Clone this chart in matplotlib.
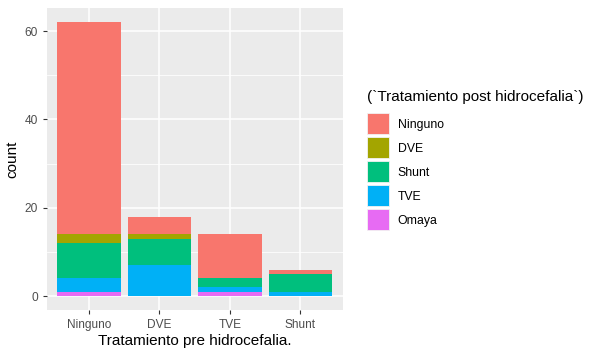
import matplotlib.pyplot as plt
import numpy as np
from matplotlib.patches import Patch

plt.rcParams['font.family'] = ['Liberation Sans', 'DejaVu Sans']

# categorías del eje x (tratamiento pre)
pre = ["Ninguno", "DVE", "TVE", "Shunt"]

# conteos por tratamiento post (en orden de leyenda)
post = ["Ninguno", "DVE", "Shunt", "TVE", "Omaya"]
ninguno = [48, 4, 10, 1]
dve     = [2, 1, 0, 0]
shunt   = [8, 6, 2, 4]
tve     = [3, 7, 1, 1]
omaya   = [1, 0, 1, 0]

colors = ["#F8766D", "#A3A500", "#00BF7D", "#00B0F6", "#E76BF3"]

fig = plt.figure(figsize=(6, 3.54), dpi=100)
ax = fig.add_axes([0.078, 0.125, 0.493, 0.851])
ax.set_facecolor("#EBEBEB")

x = np.arange(len(pre)) + 1
series = [ninguno, dve, shunt, tve, omaya]

# ggplot apila el primer nivel arriba: dibujar desde abajo (Omaya) hacia arriba
bottom = np.zeros(len(pre))
for vals, col in zip(series[::-1], colors[::-1]):
    ax.bar(x, vals, 0.9, bottom=bottom, color=col, zorder=3)
    bottom = bottom + np.array(vals)

total = bottom.max()
ax.set_xlim(0.4, len(pre) + 0.6)
ax.set_ylim(-0.05 * total, total * 1.05)

ax.set_xticks(x)
ax.set_xticklabels(pre)
ax.set_yticks([0, 20, 40, 60])
ax.set_yticks([10, 30, 50], minor=True)

ax.grid(which="major", color="white", linewidth=1.1, zorder=0)
ax.grid(which="minor", axis="y", color="white", linewidth=0.55, zorder=0)
ax.set_axisbelow(True)
for s in ax.spines.values():
    s.set_visible(False)
ax.tick_params(which="major", length=3, color="#333333", labelsize=8.6, labelcolor="#4D4D4D", width=0.8)
ax.tick_params(which="minor", length=0)

ax.set_xlabel("Tratamiento pre hidrocefalia.", fontsize=11, labelpad=2)
ax.set_ylabel("count", fontsize=11, labelpad=4)

handles = [Patch(facecolor=c, edgecolor="#F2F2F2", linewidth=0.6) for c in colors]
leg = fig.legend(handles, post, title="(`Tratamiento post hidrocefalia`)",
                 loc="upper left", bbox_to_anchor=(0.593, 0.776),
                 frameon=False, fontsize=8.8, title_fontsize=11,
                 handlelength=1.8, handleheight=2.26, labelspacing=0.25,
                 handletextpad=0.74, alignment="left")
# más espacio entre el título y las claves, como en ggplot
leg._legend_box.sep = 6.5

fig.savefig("out.png", dpi=100)
